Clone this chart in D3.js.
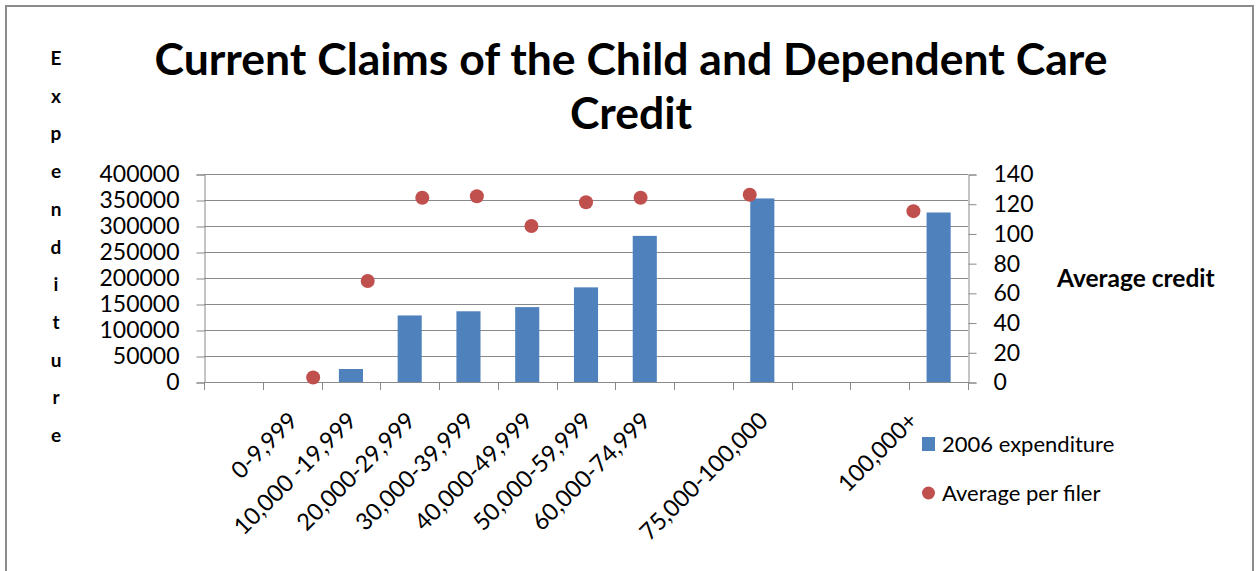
<!DOCTYPE html>
<html>
<head>
<meta charset="utf-8">
<script src="https://cdn.jsdelivr.net/npm/d3@7"></script>
<style>
  body { margin: 0; background: #fff; }
  text { font-family: Lato, "Open Sans", sans-serif; fill: #000; }
</style>
</head>
<body>
<div id="chart"></div>
<script>
// Income brackets (empty slots are gaps left in the original sheet)
var categories = ["", "0-9,999", "10,000 -19,999", "20,000-29,999", "30,000-39,999",
  "40,000-49,999", "50,000-59,999", "60,000-74,999", "", "75,000-100,000", "", "", "100,000+"];

// 2006 expenditure per bracket (left axis)
var expenditure = [null, 0, 25000, 128000, 136000, 144000, 182000, 281000, null, 353000, null, null, 326000];

// Average credit per filer (right axis)
var avgCredit = [null, 3, 68, 124, 125, 105, 121, 124, null, 126, null, null, 115];
// slot of each dot on the secondary category axis (0..14)
var avgSlot = [null, 2, 3, 4, 5, 6, 7, 8, null, 10, null, null, 13];

var leftTicks = [0, 50000, 100000, 150000, 200000, 250000, 300000, 350000, 400000];
var rightTicks = [0, 20, 40, 60, 80, 100, 120, 140];
var yLabelLetters = "Expenditure".split("");

function init() {
  var w = 1257, h = 571;
  var left = 204, right = 968, top = 174, bottom = 382;
  var legendX = 922, legendY = 437;
  var gridColor = "#898989";

  var svg = d3.select("#chart").append("svg").attr("width", w).attr("height", h);

  // outer chart border
  svg.append("rect")
    .attr("x", 6).attr("y", 6)
    .attr("width", 1247).attr("height", 580)
    .attr("fill", "#fff")
    .attr("stroke", "#8c8c8c")
    .attr("stroke-width", 2);

  var x = d3.scaleBand()
    .domain(d3.range(categories.length))
    .range([left, right])
    .paddingInner(0.59)
    .paddingOuter(0.295);

  var x2 = d3.scaleLinear().domain([0, 14]).range([left, right]);
  var y = d3.scaleLinear().domain([0, 400000]).range([bottom, top]);
  var y2 = d3.scaleLinear().domain([0, 140]).range([bottom, top]);

  // gridlines
  svg.append("g")
    .selectAll("line")
    .data(leftTicks)
    .enter()
    .append("line")
    .attr("x1", left).attr("x2", right)
    .attr("y1", (d) => Math.round(y(d)) + 0.5)
    .attr("y2", (d) => Math.round(y(d)) + 0.5)
    .attr("stroke", gridColor);

  // left axis
  var yAxis = svg.append("g")
    .attr("transform", "translate(" + (left + 0.5) + ",0.5)")
    .call(d3.axisLeft(y).tickValues(leftTicks).tickSize(8).tickPadding(17).tickFormat(d3.format("d")));
  yAxis.select(".domain").attr("stroke", gridColor);
  yAxis.selectAll(".tick line").attr("stroke", gridColor);
  yAxis.selectAll("text").style("font-size", "23px").attr("font-family", null);

  // right axis
  var y2Axis = svg.append("g")
    .attr("transform", "translate(" + (right + 0.5) + ",0.5)")
    .call(d3.axisRight(y2).tickValues(rightTicks).tickSize(8).tickPadding(17));
  y2Axis.select(".domain").attr("stroke", gridColor);
  y2Axis.selectAll(".tick line").attr("stroke", gridColor);
  y2Axis.selectAll("text").style("font-size", "23px").attr("font-family", null);

  // category axis: ticks on band boundaries
  var bounds = d3.range(categories.length + 1).map((i) => left + i * x.step());
  svg.append("line")
    .attr("x1", left).attr("x2", right)
    .attr("y1", bottom + 0.5).attr("y2", bottom + 0.5)
    .attr("stroke", gridColor);
  svg.append("g")
    .selectAll("line")
    .data(bounds)
    .enter()
    .append("line")
    .attr("x1", (d) => Math.round(d) + 0.5).attr("x2", (d) => Math.round(d) + 0.5)
    .attr("y1", bottom).attr("y2", bottom + 8)
    .attr("stroke", gridColor);

  // rotated category labels (kept clear of the legend)
  svg.append("g")
    .selectAll("text")
    .data(categories)
    .enter()
    .append("text")
    .attr("transform", function (d, i) {
      var ax = Math.min(x(i) + x.bandwidth() / 2 + 7, legendX - 3);
      return "translate(" + ax + "," + (bottom + 40) + ") rotate(-45)";
    })
    .attr("text-anchor", "end")
    .style("font-size", "23.5px")
    .text((d) => d);

  // bars
  svg.append("g")
    .selectAll("rect")
    .data(expenditure.map((v, i) => ({ i: i, v: v })).filter((d) => d.v))
    .enter()
    .append("rect")
    .attr("x", (d) => x(d.i))
    .attr("y", (d) => y(d.v))
    .attr("width", x.bandwidth())
    .attr("height", (d) => y(0) - y(d.v))
    .attr("fill", "#4F81BD");

  // average credit dots
  svg.append("g")
    .selectAll("circle")
    .data(avgCredit.map((v, i) => ({ s: avgSlot[i], v: v })).filter((d) => d.v != null))
    .enter()
    .append("circle")
    .attr("cx", (d) => x2(d.s))
    .attr("cy", (d) => y2(d.v))
    .attr("r", 7)
    .attr("fill", "#C0504D");

  // title
  var title = svg.append("text")
    .attr("x", 631)
    .attr("text-anchor", "middle")
    .style("font-size", "44.5px")
    .style("font-weight", "bold");
  title.append("tspan").attr("x", 631).attr("y", 75).text("Current Claims of the Child and Dependent Care");
  title.append("tspan").attr("x", 631).attr("y", 129).text("Credit");

  // stacked left axis title
  svg.append("g")
    .selectAll("text")
    .data(yLabelLetters)
    .enter()
    .append("text")
    .attr("x", 56)
    .attr("y", (d, i) => 65 + i * 37.7)
    .attr("text-anchor", "middle")
    .style("font-size", "19px")
    .style("font-weight", "bold")
    .text((d) => d);

  // right axis title
  svg.append("text")
    .attr("x", 1057)
    .attr("y", 287)
    .style("font-size", "24.5px")
    .style("font-weight", "bold")
    .text("Average credit");

  // legend
  var legend = svg.append("g").attr("transform", "translate(" + legendX + "," + legendY + ")");
  legend.append("rect").attr("width", 13).attr("height", 14).attr("fill", "#4F81BD");
  legend.append("text").attr("x", 20).attr("y", 15).style("font-size", "22px").text("2006 expenditure");
  legend.append("circle").attr("cx", 6.5).attr("cy", 56).attr("r", 6.5).attr("fill", "#C0504D");
  legend.append("text").attr("x", 20).attr("y", 64).style("font-size", "22px").text("Average per filer");
}

window.onload = init;
</script>
</body>
</html>
